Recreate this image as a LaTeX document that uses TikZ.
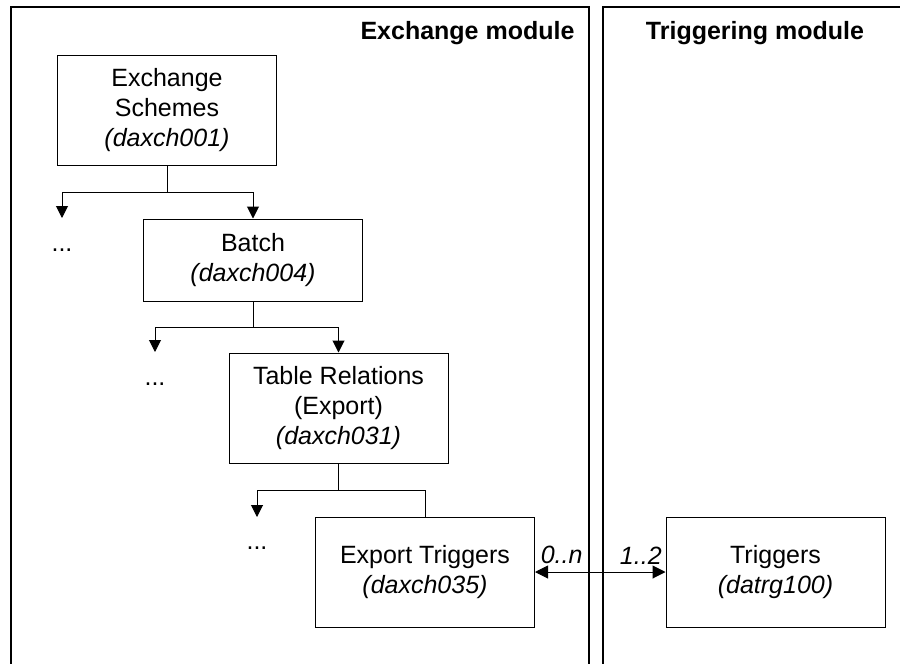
\documentclass[tikz,border=0pt]{standalone}
\usepackage{fontspec}
\setmainfont{Liberation Sans}
\usetikzlibrary{arrows.meta}
\begin{document}
\begin{tikzpicture}[x=1pt,y=-1pt,
  box/.style={draw,line width=1pt,align=center,minimum width=219pt,
    font=\fontsize{25}{30}\selectfont},
  txt/.style={font=\fontsize{25}{30}\selectfont},
  head/.style={font=\fontsize{25}{30}\selectfont\bfseries},
  arr/.style={-{Triangle[length=12pt,width=12pt]}}]
\useasboundingbox (0,0) rectangle (900,664);
\clip (0,0) rectangle (900,664);
\draw[line width=1.1pt] (11,700) -- (11,7) -- (589,7) -- (589,700);
\draw[line width=1.1pt] (603,700) -- (603,7) -- (920,7);
\node[head,anchor=base east] (exmod) at (578,39) {Exchange module};
\node[head,anchor=base] (trmod) at (755,39) {Triggering module};
\node[box,minimum height=110pt] (es) at (167,110)
  {Exchange\\Schemes\\\textit{(daxch001)}};
\node[box,minimum height=82pt] (batch) at (253,260)
  {Batch\\\textit{(daxch004)}};
\node[box,minimum height=110pt] (tabrel) at (338.5,408)
  {Table Relations\\(Export)\\\textit{(daxch031)}};
\node[box,minimum height=110pt] (exptrig) at (425,572)
  {Export Triggers\\\textit{(daxch035)}};
\node[box,minimum height=110pt] (trig) at (775.5,572)
  {Triggers\\\textit{(datrg100)}};
\node[txt] (dotsA) at (62,250) {...};
\node[txt] (dotsB) at (155,384) {...};
\node[txt] (dotsC) at (257,548) {...};
\coordinate (esfork) at (167,192);
\coordinate (esleft) at (62,218);
\coordinate (batchfork) at (253,327);
\coordinate (batchleft) at (155,352);
\coordinate (tabfork) at (338.5,490);
\coordinate (tableft) at (257,517);
\draw[line width=1pt] (es) -- (esfork);
\draw[line width=1pt,arr] (esfork) -| (esleft);
\draw[line width=1pt,arr] (esfork) -| (batch.north);
\draw[line width=1pt] (batch) -- (batchfork);
\draw[line width=1pt,arr] (batchfork) -| (batchleft);
\draw[line width=1pt,arr] (batchfork) -| (tabrel.north);
\draw[line width=1pt] (tabrel) -- (tabfork);
\draw[line width=1pt,arr] (tabfork) -| (tableft);
\draw[line width=1pt] (tabfork) -| (exptrig.north);
\draw[line width=1pt,{Triangle[length=13pt,width=13pt]}-{Triangle[length=13pt,width=13pt]}]
  (exptrig) -- node[txt,pos=0,anchor=south west,xshift=2pt,yshift=4pt] {\textit{0..n}}
  node[txt,pos=1,anchor=south east,yshift=4pt] {\textit{1..2}} (trig);
\end{tikzpicture}
\end{document}
